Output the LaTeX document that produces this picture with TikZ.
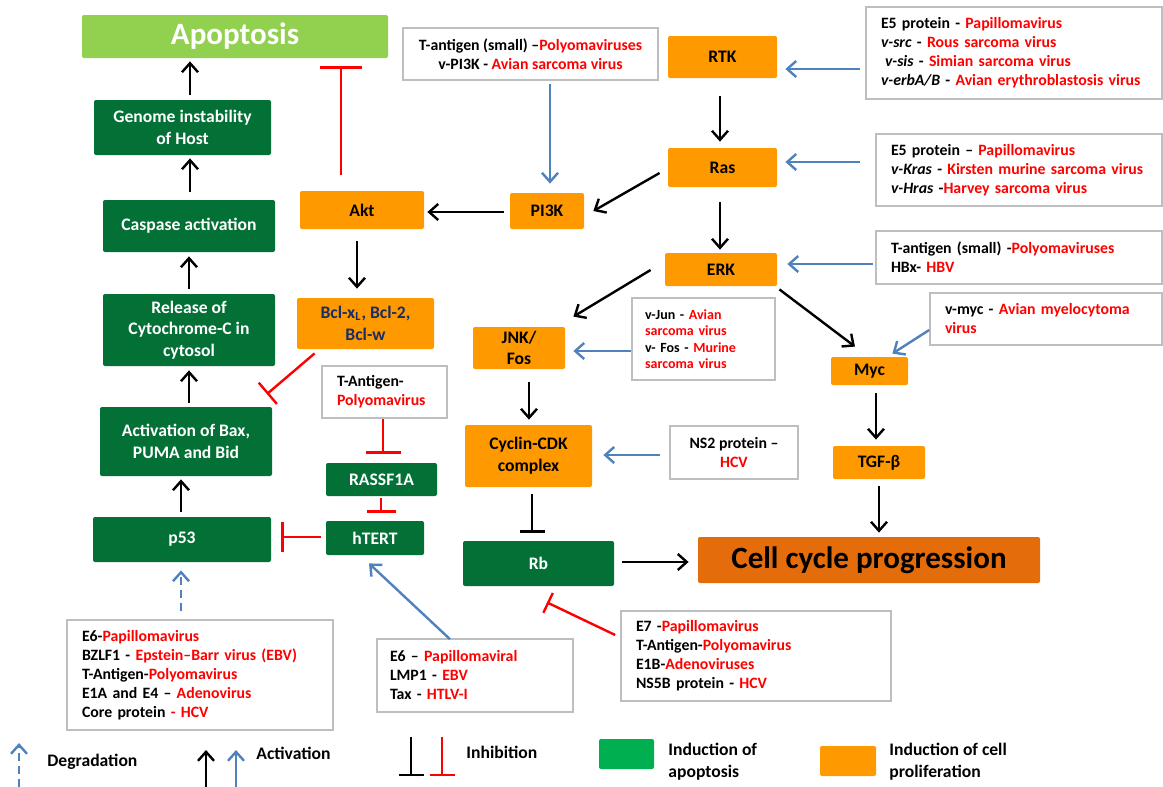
\documentclass[tikz,border=0pt]{standalone}
\usepackage{fontspec}
\setmainfont{Carlito}
\usepackage{tikz}
\usetikzlibrary{arrows.meta,positioning}

\definecolor{dkgreen}{RGB}{3,112,54}
\definecolor{lgreen}{RGB}{146,208,80}
\definecolor{leggreen}{RGB}{0,176,80}
\definecolor{orng}{RGB}{255,153,0}
\definecolor{cellorng}{RGB}{228,108,10}
\definecolor{vblue}{RGB}{79,129,189}
\definecolor{navy}{RGB}{23,45,100}
\definecolor{boxgray}{RGB}{190,190,190}

\newcommand{\labfont}{\bfseries\fontsize{8.8}{10.8}\selectfont}
\newcommand{\virfont}{\bfseries\fontsize{7.9}{9.5}\selectfont}
\newcommand{\junfont}{\bfseries\fontsize{7}{8.2}\selectfont}
\newcommand{\titlefont}{\bfseries\fontsize{15.5}{18}\selectfont}
\newcommand{\redtxt}[1]{\textcolor{red}{#1}}

\begin{document}
\begin{tikzpicture}
	[x=0.5pt, y=-0.5pt,
	apo/.style={fill=dkgreen, text=white, font=\labfont, align=center, rounded corners=1pt, inner sep=0pt},
	pro/.style={fill=orng, font=\labfont, align=center, rounded corners=1pt, inner sep=0pt},
	virus/.style={draw=boxgray, line width=0.8pt, fill=white, font=\virfont, align=left, inner xsep=7.5pt, inner ysep=0pt},
	act/.style={-{Straight Barb[length=4.5pt,width=8pt]}, line width=1.2pt},
	viract/.style={act, draw=vblue, line width=1.2pt},
	inh/.style={-{Bar[width=#1]}, line width=1.2pt, draw=red},
	legtext/.style={font=\labfont, align=left, anchor=west, inner sep=0pt}]
	\useasboundingbox (0,0) rectangle (1163,787);

	% apoptosis side
	\node[apo, fill=lgreen, minimum width=153pt, minimum height=21.5pt, font=\titlefont] (apop) at (235,36.5) {Apoptosis};
	\node[apo, minimum width=88.5pt, minimum height=27.5pt] (genome) at (182.5,127.5) {Genome instability\\of Host};
	\node[apo, minimum width=86pt, minimum height=26pt] (caspase) at (189,226) {Caspase activation};
	\node[apo, minimum width=86pt, minimum height=36pt] (release) at (189,330) {Release of\\Cytochrome-C in\\cytosol};
	\node[apo, minimum width=86pt, minimum height=34.5pt] (bax) at (186,441.5) {Activation of Bax,\\PUMA and Bid};
	\node[apo, minimum width=89pt, minimum height=22.5pt] (p53) at (182,539.5) {p53};
	\node[apo, minimum width=55.5pt, minimum height=16.5pt] (rassf) at (381.5,479.5) {RASSF1A};
	\node[apo, minimum width=49pt, minimum height=17pt] (htert) at (375,538) {hTERT};
	\node[apo, minimum width=75.5pt, minimum height=22.5pt] (rb) at (538.5,563.5) {Rb};

	% proliferation side
	\node[pro, minimum width=62pt, minimum height=19pt] (akt) at (362,210) {Akt};
	\node[pro, minimum width=37pt, minimum height=18pt] (pik) at (547,211) {PI3K};
	\node[pro, minimum width=68.5pt, minimum height=25.5pt, text=navy] (bcl) at (365.5,323.5) {Bcl-x\textsubscript{L}, Bcl-2,\\Bcl-w};
	\node[pro, minimum width=46pt, minimum height=21pt] (jnk) at (519,348) {JNK/\\Fos};
	\node[pro, minimum width=63.5pt, minimum height=31pt] (cyclin) at (528.5,456) {Cyclin-CDK\\complex};
	\node[pro, minimum width=54.5pt, minimum height=21pt] (rtk) at (722.5,57) {RTK};
	\node[pro, minimum width=54.5pt, minimum height=19.5pt] (ras) at (722.5,167.5) {Ras};
	\node[pro, minimum width=56pt, minimum height=16.5pt] (erk) at (721,269.5) {ERK};
	\node[pro, minimum width=38.5pt, minimum height=14pt] (myc) at (869.5,371) {Myc};
	\node[pro, minimum width=46pt, minimum height=16.5pt] (tgf) at (879,462.5) {TGF-β};
	\node[pro, fill=cellorng, minimum width=171pt, minimum height=23pt, font=\titlefont] (cell) at (869,560) {Cell cycle progression};

	% viral proteins
	\node[virus, align=center, inner xsep=0pt, minimum width=127.5pt, minimum height=26pt] (vpik) at (530.5,54) {T-antigen (small) –\redtxt{Polyomaviruses}\\v-PI3K - \redtxt{Avian sarcoma virus}};
	\node[virus, text width=133pt, minimum height=46pt] (vrtk) at (1014,53) {E5 protein - \redtxt{Papillomavirus}\\\textit{v-src} - \redtxt{Rous sarcoma virus}\\\hspace*{2pt}\textit{v-sis} - \redtxt{Simian sarcoma virus}\\\textit{v-erbA/B} - \redtxt{Avian erythroblastosis virus}};
	\node[virus, text width=128pt, minimum height=36pt] (vras) at (1019,170) {E5 protein – \redtxt{Papillomavirus}\\\mbox{\textit{v-Kras} - \redtxt{Kirsten murine sarcoma virus}}\\\textit{v-Hras} -\redtxt{Harvey sarcoma virus}};
	\node[virus, text width=128pt, minimum height=26.5pt] (verk) at (1019,257.5) {T-antigen (small) -\redtxt{Polyomaviruses}\\HBx- \redtxt{HBV}};
	\node[virus, text width=101pt, minimum height=26pt] (vmyc) at (1046,319) {v-myc - \redtxt{Avian myelocytoma}\\\redtxt{virus}};
	\node[virus, font=\junfont, inner xsep=6.5pt, text width=58.5pt, minimum height=41pt] (vjun) at (703.5,339) {v-Jun - \redtxt{Avian}\\\redtxt{sarcoma virus}\\v- Fos - \redtxt{Murine}\\\redtxt{sarcoma virus}};
	\node[virus, align=center, inner xsep=0pt, minimum width=64pt, minimum height=26.5pt] (vns2) at (734,452.5) {NS2 protein –\\\redtxt{HCV}};
	\node[virus, text width=47.5pt, minimum height=26pt] (tag) at (384.5,392) {T-Antigen-\\\redtxt{Polyomavirus}};
	\node[virus, text width=120pt, minimum height=45pt] (vrb) at (756,656) {E7 -\redtxt{Papillomavirus}\\T-Antigen-\redtxt{Polyomavirus}\\E1B-\redtxt{Adenoviruses}\\NS5B protein - \redtxt{HCV}};
	\node[virus, inner xsep=6.5pt, text width=85pt, minimum height=36.5pt] (vtert) at (475,675.5) {E6 – \redtxt{Papillomaviral}\\LMP1 - \redtxt{EBV}\\Tax - \redtxt{HTLV-I}};
	\node[virus, text width=118pt, minimum height=55pt] (vp53) at (200,675) {E6-\redtxt{Papillomavirus}\\BZLF1 - \redtxt{Epstein–Barr virus (EBV)}\\T-Antigen-\redtxt{Polyomavirus}\\E1A and E4 – \redtxt{Adenovirus}\\Core protein \redtxt{- HCV}};

	% activation
	\draw[act] ([shift={(7.5,-5)}]genome.north) -- ([shift={(-45,3)}]apop.south);
	\draw[act] ([shift={(1,-8)}]caspase.north) -- ([shift={(7.5,3)}]genome.south);
	\draw[act] ([shift={(0,-5)}]release.north) -- ([shift={(0,4)}]caspase.south);
	\draw[act] ([shift={(3,-4)}]bax.north) -- ([shift={(0,4)}]release.south);
	\draw[act] ([shift={(-1,-5)}]p53.north) -- ([shift={(-5,3)}]bax.south);
	\draw[act] ([shift={(-6,1)}]pik.west) -- ([shift={(3,2)}]akt.east);
	\draw[act] ([shift={(-5,12)}]akt.south) -- ([shift={(-8.5,-9)}]bcl.north);
	\draw[act] ([shift={(-2.5,18)}]rtk.south) -- ([shift={(-2.5,-6)}]ras.north);
	\draw[act] ([shift={(-2.5,15)}]ras.south) -- ([shift={(-1,-3)}]erk.north);
	\draw[act] ([shift={(-8,5.5)}]ras.west) -- ([shift={(9,0)}]pik.east);
	\draw[act] ([shift={(-14,0.5)}]erk.west) -- ([shift={(8,-10)}]jnk.north east);
	\draw[act] ([shift={(2,3)}]erk.south east) -- ([shift={(-14.5,-10)}]myc.north);
	\draw[act] ([shift={(10,13)}]jnk.south) -- ([shift={(0.5,-5)}]cyclin.north);
	\draw[act] ([shift={(6.5,8)}]myc.south) -- ([shift={(-3,-6)}]tgf.north);
	\draw[act] ([shift={(0,7)}]tgf.south) -- ([shift={(10,-4)}]cell.north);
	\draw[act] ([shift={(8,-1.5)}]rb.east) -- ([shift={(-9,2)}]cell.west);

	% viral activation
	\draw[viract] ([shift={(19.5,3)}]vpik.south) -- ([shift={(3,-9)}]pik.north);
	\draw[viract] ([shift={(-5,16)}]vrtk.west) -- ([shift={(8,12)}]rtk.east);
	\draw[viract] ([shift={(-15,-8)}]vras.west) -- ([shift={(8,-5.5)}]ras.east);
	\draw[viract] ([shift={(-2,6.5)}]verk.west) -- ([shift={(10,-5.5)}]erk.east);
	\draw[viract] ([shift={(0,11)}]vmyc.west) -- ([shift={(-16,-3)}]myc.north east);
	\draw[viract] ([shift={(0,12)}]vjun.west) -- ([shift={(8,3)}]jnk.east);
	\draw[viract] ([shift={(-9,2.5)}]vns2.west) -- ([shift={(11,-1)}]cyclin.east);
	\draw[viract] ([shift={(-25,1)}]vtert.north) -- ([shift={(-6,8)}]htert.south);
	\draw[viract, dash pattern=on 4pt off 2.5pt] ([shift={(-19,-8)}]vp53.north) -- ([shift={(-1,8)}]p53.south);

	% inhibition
	\draw[inh=21pt] ([shift={(-21,-16)}]akt.north) -- ([shift={(106,8)}]apop.south);
	\draw[inh=14pt] ([shift={(18,4)}]bcl.south west) -- ([shift={(-5.5,-12.5)}]bax.north east);
	\draw[inh=17.5pt] ([shift={(-1.5,0)}]tag.south) -- ([shift={(1.5,-9)}]rassf.north);
	\draw[inh=14.5pt] ([shift={(-0.5,2)}]rassf.south) -- ([shift={(6,-8)}]htert.north);
	\draw[inh=15pt] ([shift={(-5,-1)}]htert.west) -- ([shift={(10,-2.5)}]p53.east);
	\draw[inh=11pt] ([shift={(-5,-21)}]vrb.west) -- ([shift={(8.5,16)}]rb.south);
	\draw[inh=12.5pt, draw=black, line width=1.4pt] ([shift={(3.5,7)}]cyclin.south) -- ([shift={(-6.5,-8)}]rb.north);

	% legend
	\draw[viract, dash pattern=on 4pt off 2.5pt] (19,787) -- (19,743);
	\node[legtext] (degr) at (47,762) {Degradation};
	\draw[act] (206,787) -- (206,750);
	\draw[viract] (236,787) -- (236,750);
	\node[legtext] (activ) at (256,753) {Activation};
	\draw[inh=12.5pt, draw=black] (411,737) -- (411,776);
	\draw[inh=12.5pt] (442,737) -- (442,776);
	\node[legtext] (inhib) at (466,752) {Inhibition};
	\fill[leggreen, rounded corners=1pt] (599,739) rectangle (654,769);
	\node[legtext] (lapo) at (668,761.5) {Induction of\\apoptosis};
	\fill[orng, rounded corners=1pt] (820,746) rectangle (876,776);
	\node[legtext] (lpro) at (889,761.5) {Induction of cell\\proliferation};
\end{tikzpicture}
\end{document}
